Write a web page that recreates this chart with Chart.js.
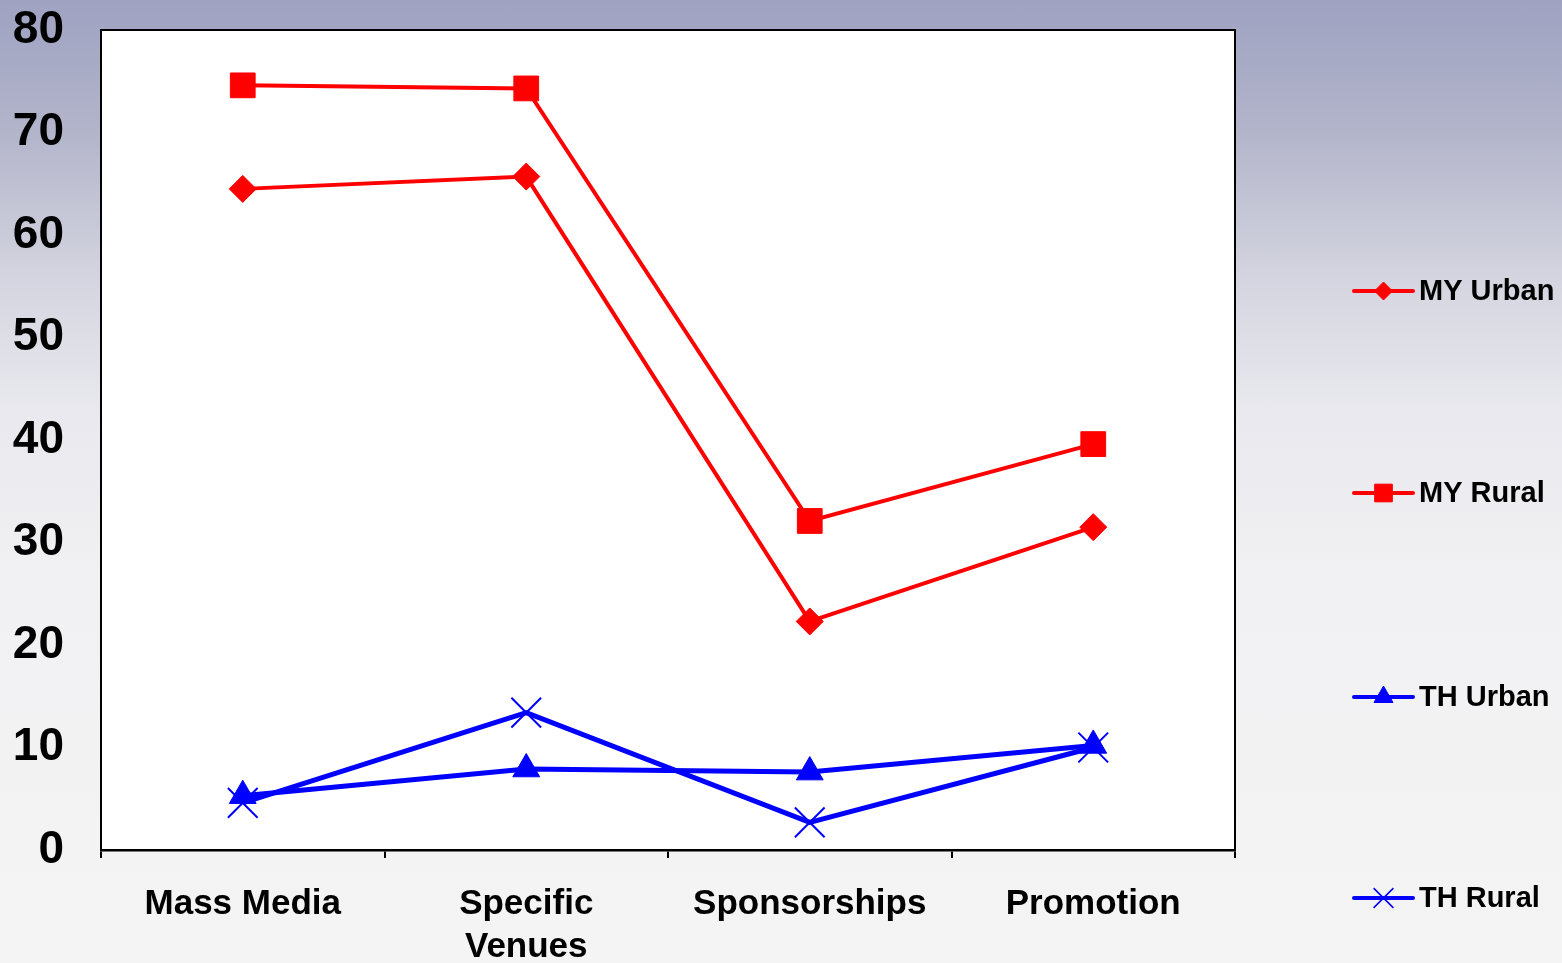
<!DOCTYPE html>
<html>
<head>
<meta charset="utf-8">
<script src="https://cdn.jsdelivr.net/npm/chart.js@4/dist/chart.umd.min.js"></script>
<style>
  html, body { margin: 0; padding: 0; }
  body {
    width: 1562px; height: 963px; overflow: hidden;
    background: linear-gradient(to bottom, #9fa2c1 0%, #b3b5cb 14%, #d2d3de 28%, #e8e8ee 42%, #f1f1f3 60%, #f4f4f4 100%);
    font-family: "Liberation Sans", Arial, sans-serif;
  }
  #wrap { position: relative; width: 1562px; height: 963px; }
</style>
</head>
<body>
<div id="wrap"><canvas id="chart" width="1562" height="963"></canvas></div>
<script>
// categories and series
const categories = ['Mass Media', ['Specific', 'Venues'], 'Sponsorships', 'Promotion'];
const myUrban = [64.5, 65.7, 22.3, 31.5];
const myRural = [74.6, 74.3, 32.1, 39.6];
const thUrban = [5.3, 7.9, 7.6, 10.2];
const thRural = [4.6, 13.4, 2.7, 10.0];
const yTicks = [0, 10, 20, 30, 40, 50, 60, 70, 80];

const RED = '#ff0000';
const BLUE = '#0000ff';

// white plot area + top/right frame
const plotFrame = {
  id: 'plotFrame',
  beforeDraw(chart) {
    const { ctx, chartArea: a } = chart;
    ctx.save();
    ctx.fillStyle = '#ffffff';
    ctx.fillRect(a.left, a.top, a.right - a.left, a.bottom - a.top);
    ctx.restore();
  },
  afterDraw(chart) {
    const { ctx, chartArea: a } = chart;
    ctx.save();
    ctx.strokeStyle = '#000';
    ctx.lineWidth = 2;
    ctx.beginPath();
    ctx.moveTo(a.left, a.top);
    ctx.lineTo(a.right, a.top);
    ctx.lineTo(a.right, a.bottom);
    ctx.stroke();
    ctx.restore();
  }
};

// legend on the right, evenly spaced down the side
const sideLegend = {
  id: 'sideLegend',
  afterDraw(chart) {
    const { ctx } = chart;
    const rows = [291, 493, 697, 898];
    const lx0 = 1354, lx1 = 1413, tx = 1419;
    const sizes = { rectRot: 9, rect: 12.5, triangle: 11, crossRot: 14 };
    chart.data.datasets.forEach((ds, i) => {
      const y = rows[i];
      ctx.save();
      ctx.strokeStyle = ds.borderColor;
      ctx.lineWidth = 4;
      ctx.lineCap = 'round';
      ctx.beginPath();
      ctx.moveTo(lx0, y);
      ctx.lineTo(lx1, y);
      ctx.stroke();
      ctx.fillStyle = ds.pointBackgroundColor;
      ctx.strokeStyle = ds.pointBorderColor;
      ctx.lineWidth = ds.pointStyle === 'crossRot' ? 1.5 : 1;
      ctx.lineCap = 'butt';
      Chart.helpers.drawPoint(ctx, { pointStyle: ds.pointStyle, rotation: 0, radius: sizes[ds.pointStyle], borderWidth: ctx.lineWidth }, (lx0 + lx1) / 2, y);
      ctx.fillStyle = '#000';
      ctx.font = 'bold 29px "Liberation Sans", Arial, sans-serif';
      ctx.textAlign = 'left';
      ctx.textBaseline = 'middle';
      ctx.fillText(ds.label, tx, y + 1);
      ctx.restore();
    });
  }
};

new Chart(document.getElementById('chart'), {
  type: 'line',
  data: {
    labels: categories,
    datasets: [
      { label: 'MY Urban', data: myUrban, borderColor: RED, borderWidth: 4,
        pointStyle: 'rectRot', pointRadius: 13.5, pointBackgroundColor: RED, pointBorderColor: RED, pointBorderWidth: 1 },
      { label: 'MY Rural', data: myRural, borderColor: RED, borderWidth: 4,
        pointStyle: 'rect', pointRadius: 17.5, pointBackgroundColor: RED, pointBorderColor: RED, pointBorderWidth: 1 },
      { label: 'TH Urban', data: thUrban, borderColor: BLUE, borderWidth: 5,
        pointStyle: 'triangle', pointRadius: 15.5, pointBackgroundColor: BLUE, pointBorderColor: BLUE, pointBorderWidth: 1 },
      { label: 'TH Rural', data: thRural, borderColor: BLUE, borderWidth: 5,
        pointStyle: 'crossRot', pointRadius: 21, pointBackgroundColor: BLUE, pointBorderColor: BLUE, pointBorderWidth: 2 }
    ]
  },
  options: {
    responsive: false,
    animation: false,
    devicePixelRatio: 1,
    layout: { autoPadding: false, padding: { top: 30, right: 327, bottom: 0, left: 0 } },
    elements: { line: { tension: 0, fill: false } },
    plugins: { legend: { display: false }, tooltip: { enabled: false } },
    scales: {
      x: {
        type: 'category',
        offset: true,
        afterFit: s => { s.height = 113; },
        grid: { display: true, drawOnChartArea: false, drawTicks: true, tickLength: 8, color: '#000', lineWidth: 2, offset: true },
        border: { display: true, color: '#000', width: 2.5 },
        ticks: {
          color: '#000', padding: 24, maxRotation: 0, autoSkip: false,
          font: { family: '"Liberation Sans", Arial, sans-serif', size: 35, weight: 'bold', lineHeight: 1.25 }
        }
      },
      y: {
        min: 0, max: 80,
        // fixed gutter; keep tick padding from pushing the plot down
        afterFit: s => { s.width = 101; s.paddingTop = 30; s.paddingBottom = 0; },
        afterBuildTicks: s => { s.ticks = yTicks.map(v => ({ value: v })); },
        grid: { display: false, drawTicks: false },
        border: { display: true, color: '#000', width: 2 },
        ticks: {
          color: '#000', padding: 37,
          font: { family: '"Liberation Sans", Arial, sans-serif', size: 46, weight: 'bold', lineHeight: 1.05 }
        }
      }
    }
  },
  plugins: [plotFrame, sideLegend]
});
</script>
</body>
</html>
